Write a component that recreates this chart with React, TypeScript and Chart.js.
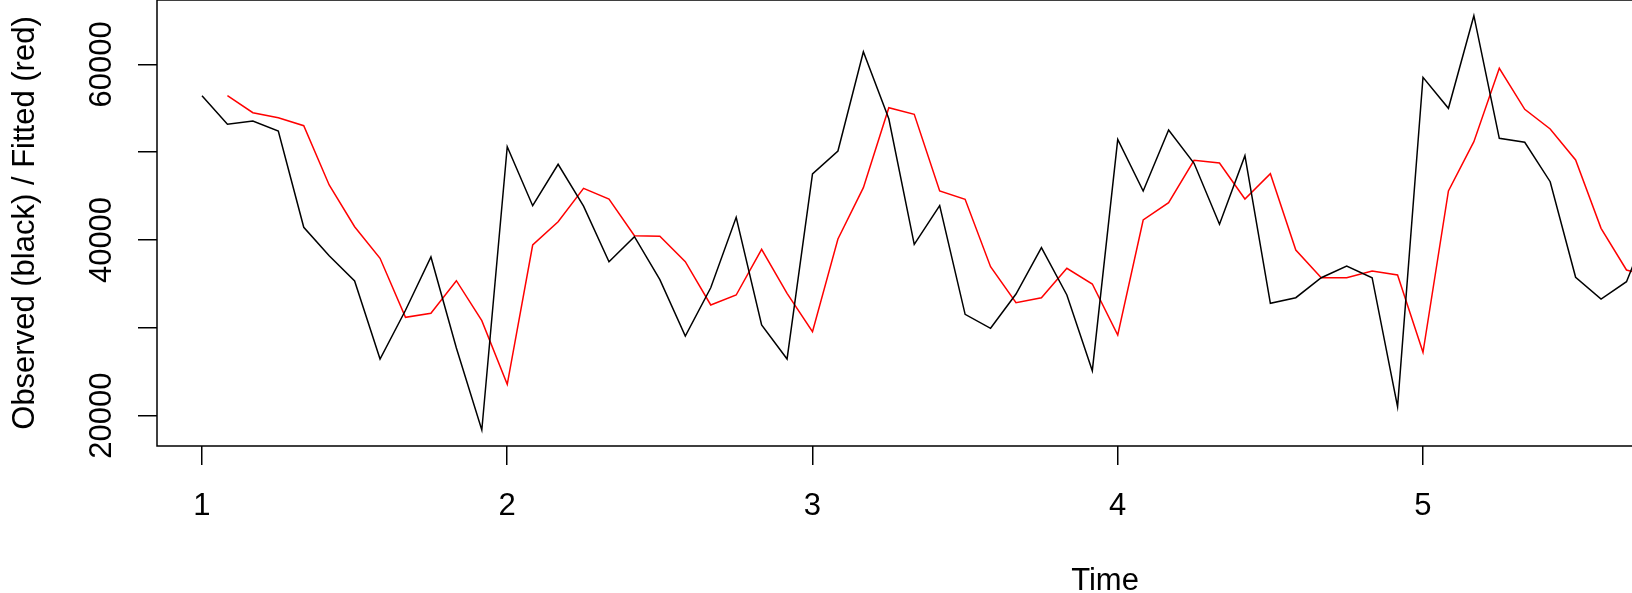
import React, { useEffect, useRef } from "react";
import { Chart, registerables } from "chart.js";

Chart.register(...registerables);

// Monthly time series: starts at time 1, 12 observations per unit of time
const TS_START = 1;
const TS_FREQUENCY = 12;

// Observed series (black), one value per month starting at time 1
const observed = [
  56426, 53170, 53546, 52408, 41446, 38200, 35333, 26454, 32000, 38065, 27700, 18372,
  50620, 43904, 48617, 43850, 37530, 40376, 35480, 29072, 34560, 42584, 30324, 26454,
  47513, 50131, 61434, 53800, 39510, 43904, 31542, 29949, 33850, 39124, 33740, 25122,
  51463, 45578, 52521, 48731, 41787, 49596, 32794, 33432, 35708, 37040, 35708, 21024,
  58520, 54991, 65532, 51576, 51121, 46636, 35754, 33284, 35253, 42400,
];

// Fitted series (red), starts one month after the observed series
const FITTED_OFFSET = 1;
const fitted = [
  56426, 54491, 53921, 53011, 46261, 41514, 37917, 31201, 31656, 35367, 30814, 23574,
  39431, 42083, 45885, 44667, 40489, 40421, 37530, 32601, 33740, 38941, 33933, 29562,
  40114, 45953, 55060, 54300, 45578, 44633, 36961, 32863, 33432, 36779, 34991, 29186,
  42277, 44246, 49072, 48765, 44667, 47547, 38862, 35708, 35708, 36471, 36016, 27217,
  45578, 51190, 59545, 54878, 52635, 49107, 41332, 36585, 35800,
];

const xTickValues = [1, 2, 3, 4, 5];
const xTickLabels = ["1", "2", "3", "4", "5"];
const yTickValues = [20000, 30000, 40000, 50000, 60000];
const yLabelValues = [20000, 40000, 60000];
const yLabelTexts = ["20000", "40000", "60000"];

const X_MIN = 0.8526;
const X_MAX = 5.6847;
const Y_MIN = 16551;
const Y_MAX = 67319;

const X_TITLE = "Time";
const Y_TITLE = "Observed (black) / Fitted (red)";

const FONT = '"Liberation Sans", Arial, Helvetica, sans-serif';
const FONT_SIZE = 31;
const LW = 1.5;

const rFramePlugin = {
  id: "rFrame",
  afterDraw(chart: any) {
    const { ctx, chartArea: a, scales } = chart;
    ctx.save();
    ctx.strokeStyle = "#000";
    ctx.lineWidth = LW;
    ctx.beginPath();
    ctx.rect(a.left, a.top, a.right - a.left + 20, a.bottom - a.top);
    ctx.stroke();

    ctx.fillStyle = "#000";
    ctx.font = `${FONT_SIZE}px ${FONT}`;
    ctx.textBaseline = "alphabetic";
    ctx.textAlign = "center";

    // x tick labels
    xTickValues.forEach((v, i) => {
      const px = scales.x.getPixelForValue(v);
      ctx.fillText(xTickLabels[i], px, a.bottom + 69);
    });
    // x title
    ctx.fillText(X_TITLE, 1105, a.bottom + 144);

    // y tick labels (rotated)
    yLabelValues.forEach((v, i) => {
      const py = scales.y.getPixelForValue(v);
      ctx.save();
      ctx.translate(a.left - 46, py);
      ctx.rotate(-Math.PI / 2);
      ctx.fillText(yLabelTexts[i], 0, 0);
      ctx.restore();
    });
    // y title
    ctx.save();
    ctx.translate(a.left - 123, (a.top + a.bottom) / 2);
    ctx.rotate(-Math.PI / 2);
    ctx.fillText(Y_TITLE, 0, 0);
    ctx.restore();

    ctx.restore();
  },
};

export default function App() {
  const ref = useRef<HTMLCanvasElement | null>(null);

  useEffect(() => {
    document.body.style.margin = "0";
    const canvas = ref.current;
    if (!canvas) return;

    const observedPts = observed.map((y, i) => ({ x: TS_START + i / TS_FREQUENCY, y }));
    const fittedPts = fitted.map((y, i) => ({ x: TS_START + (i + FITTED_OFFSET) / TS_FREQUENCY, y }));

    const chart = new Chart(canvas, {
      type: "line",
      data: {
        datasets: [
          {
            label: "Observed",
            data: observedPts,
            borderColor: "#000000",
            borderWidth: LW,
            pointRadius: 0,
            tension: 0,
            fill: false,
          },
          {
            label: "Fitted",
            data: fittedPts,
            borderColor: "#ff0000",
            borderWidth: LW,
            pointRadius: 0,
            tension: 0,
            fill: false,
          },
        ],
      },
      options: {
        animation: false,
        responsive: false,
        maintainAspectRatio: false,
        events: [],
        layout: { padding: 0 },
        plugins: {
          legend: { display: false },
          tooltip: { enabled: false },
          title: { display: false },
        },
        scales: {
          x: {
            type: "linear",
            min: X_MIN,
            max: X_MAX,
            afterBuildTicks: (scale: any) => {
              scale.ticks = xTickValues.map((v) => ({ value: v }));
            },
            afterFit: (scale: any) => {
              scale.height = 147;
            },
            ticks: { display: false },
            grid: {
              drawOnChartArea: false,
              drawTicks: true,
              tickLength: 19,
              color: "#000",
              tickColor: "#000",
              lineWidth: LW,
              tickWidth: LW,
            },
            border: { display: false },
          },
          y: {
            type: "linear",
            min: Y_MIN,
            max: Y_MAX,
            afterBuildTicks: (scale: any) => {
              scale.ticks = yTickValues.map((v) => ({ value: v }));
            },
            afterFit: (scale: any) => {
              scale.width = 157;
            },
            ticks: { display: false },
            grid: {
              drawOnChartArea: false,
              drawTicks: true,
              tickLength: 19,
              color: "#000",
              tickColor: "#000",
              lineWidth: LW,
              tickWidth: LW,
            },
            border: { display: false },
          },
        },
      },
      plugins: [rFramePlugin],
    });

    return () => {
      chart.destroy();
    };
  }, []);

  return (
    <div style={{ width: 1632, height: 593, background: "#fff" }}>
      <canvas ref={ref} width={1632} height={593} style={{ display: "block" }} />
    </div>
  );
}
